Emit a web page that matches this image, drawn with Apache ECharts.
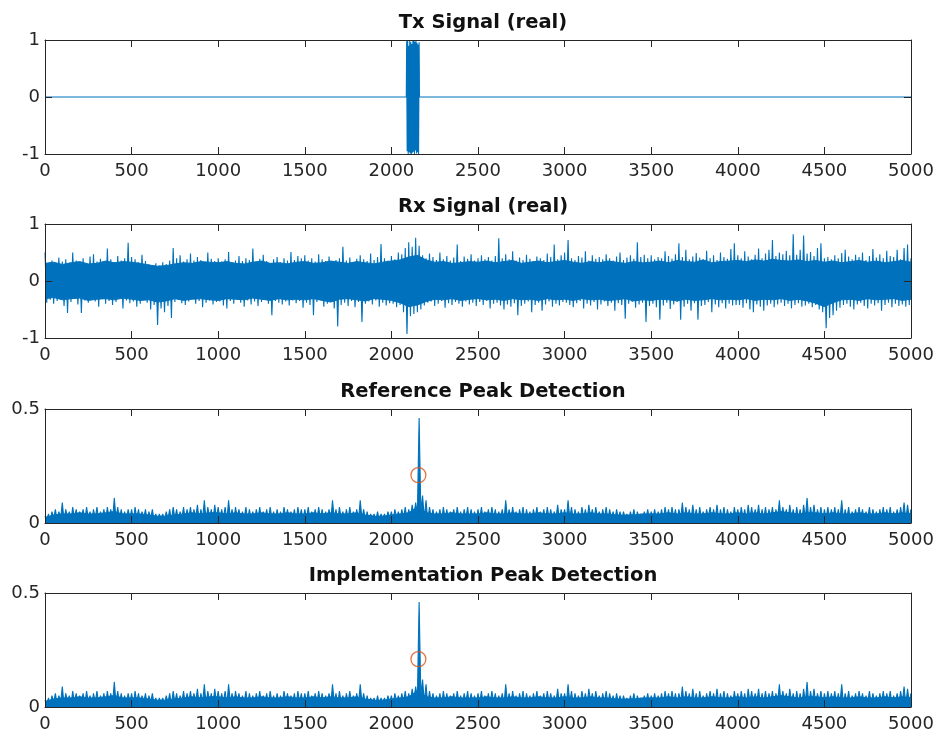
<!DOCTYPE html>
<html>
<head>
<meta charset="utf-8">
<script src="https://cdn.jsdelivr.net/npm/echarts@6/dist/echarts.min.js"></script>
<style>html,body{margin:0;padding:0;background:#fff;}#chart{width:941px;height:736px;}</style>
</head>
<body>
<div id="chart"></div>
<script>
// ---------- data ----------
const titles = ['Tx Signal (real)', 'Rx Signal (real)', 'Reference Peak Detection', 'Implementation Peak Detection'];
const xTickMin = 0, xTickMax = 5000, xTickStep = 500;

// Tx: zero everywhere except a short burst
const txX = [0, 2086, 2088, 2091, 2094, 2097, 2100, 2103, 2106, 2109, 2112, 2115, 2118, 2121, 2124, 2127, 2130, 2133, 2136, 2139, 2142, 2145, 2148, 2151, 2154, 2157, 2160, 2162, 5000];
const txY = [0, 0, .98, -.95, 1, -1, .9, -.97, 1, -.99, .96, -1, .93, -.98, 1, -.96, .99, -1, .97, -.94, 1, -.99, .95, -.97, .92, -1, .96, 0, 0];

// Rx / correlation traces: one value every SAMPLE_STEP samples (pixel-column extremes)
const SAMPLE_STEP = 10;
const rxSignal = [
 .50,-.38,.30,-.33,.36,-.40,.29,-.35,.41,-.31,.34,-.44,.38,-.56,.32,-.37,.50,-.30,.36,-.41,.33,-.56,.40,-.34,.30,-.38,.43,-.32,.47,-.36,.34,-.45,.39,-.31,.30,-.40,.57,-.35,.38,-.42,.33,-.37,.44,-.30,.36,-.48,.40,-.34,.67,-.39,
 .42,-.36,.38,-.45,.33,-.40,.46,-.33,.35,-.38,.30,-.50,.28,-.42,.31,-.77,.27,-.48,.33,-.55,.30,-.44,.36,-.65,.58,-.37,.40,-.33,.45,-.39,.34,-.42,.38,-.36,.48,-.31,.36,-.40,.42,-.35,.37,-.46,.33,-.38,.50,-.34,.39,-.41,.35,-.37,
 .40,-.36,.34,-.43,.38,-.48,.51,-.35,.32,-.40,.36,-.33,.44,-.38,.35,-.45,.40,-.34,.37,-.41,.57,-.36,.33,-.44,.39,-.37,.46,-.32,.35,-.40,.31,-.60,.38,-.35,.42,-.38,.33,-.41,.40,-.36,.36,-.43,.51,-.34,.37,-.39,.44,-.35,.40,-.47,
 .45,-.38,.36,-.42,.40,-.60,.34,-.37,.47,-.33,.38,-.45,.35,-.40,.43,-.36,.32,-.48,.37,-.80,.40,-.42,.60,-.38,.36,-.44,.41,-.35,.33,-.46,.39,-.37,.45,-.72,.38,-.40,.35,-.36,.48,-.41,.37,-.34,.42,-.45,.65,-.38,.40,-.43,.36,-.39,
 .44,-.40,.38,-.46,.50,-.42,.47,-.55,.58,-.93,.68,-.62,.60,-.58,.76,-.55,.62,-.50,.45,-.43,.40,-.38,.48,-.36,.42,-.44,.37,-.40,.50,-.35,.38,-.47,.44,-.39,.36,-.42,.41,-.37,.64,-.40,.35,-.45,.43,-.36,.39,-.41,.47,-.38,.36,-.44,
 .40,-.37,.45,-.42,.38,-.35,.42,-.48,.36,-.40,.44,-.38,.75,-.43,.40,-.50,.47,-.41,.38,-.45,.52,-.39,.36,-.60,.41,-.44,.37,-.40,.46,-.36,.39,-.55,.35,-.42,.43,-.38,.40,-.52,.37,-.41,.48,-.36,.42,-.45,.64,-.40,.38,-.43,.45,-.37,
 .50,-.38,.72,-.42,.40,-.46,.37,-.39,.44,-.35,.41,-.48,.52,-.40,.36,-.43,.45,-.37,.39,-.50,.42,-.41,.38,-.36,.47,-.44,.40,-.38,.36,-.52,.43,-.39,.50,-.42,.37,-.66,.41,-.40,.45,-.37,.39,-.47,.68,-.41,.42,-.38,.46,-.72,.40,-.44,
 .45,-.40,.38,-.46,.42,-.68,.40,-.43,.52,-.38,.44,-.49,.39,-.41,.47,-.37,.66,-.68,.42,-.45,.55,-.40,.38,-.52,.43,-.39,.49,-.68,.41,-.44,.38,-.42,.53,-.37,.40,-.55,.45,-.41,.37,-.46,.50,-.39,.42,-.48,.39,-.40,.56,-.43,.66,-.42,
 .45,-.42,.40,-.47,.52,-.39,.43,-.50,.38,-.55,.46,-.41,.57,-.45,.40,-.52,.48,-.43,.55,-.40,.72,-.46,.44,-.41,.50,-.38,.47,-.44,.53,-.40,.45,-.48,.82,-.42,.46,-.39,.55,-.45,.80,-.43,.48,-.40,.51,-.46,.44,-.42,.58,-.50,.66,-.55,
 .40,-.83,.42,-.65,.38,-.60,.45,-.52,.40,-.47,.49,-.42,.55,-.40,.43,-.45,.38,-.50,.46,-.41,.42,-.38,.50,-.44,.37,-.48,.44,-.40,.56,-.43,.41,-.39,.47,-.52,.40,-.42,.53,-.38,.44,-.46,.42,-.40,.55,-.44,.38,-.41,.58,-.45,.64,-.42,
 .40
];
const refCorr = [
 .03,.01,.04,.00,.05,.02,.06,.01,.05,.02,.09,.01,.06,.02,.05,.01,.07,.02,.06,.01,.05,.02,.06,.01,.07,.02,.05,.01,.06,.02,.07,.01,.05,.02,.06,.01,.07,.02,.06,.01,.11,.02,.07,.01,.06,.02,.05,.01,.06,.02,
 .06,.01,.07,.02,.06,.01,.05,.02,.06,.01,.05,.02,.06,.01,.04,.01,.04,.02,.04,.01,.05,.02,.06,.01,.07,.02,.06,.01,.05,.02,.07,.01,.06,.02,.07,.01,.06,.02,.08,.01,.06,.02,.10,.01,.07,.02,.06,.01,.08,.02,
 .07,.01,.06,.02,.07,.01,.10,.02,.06,.01,.07,.02,.06,.01,.05,.02,.07,.01,.06,.02,.05,.01,.06,.02,.07,.01,.05,.02,.06,.01,.07,.02,.05,.01,.06,.02,.05,.01,.07,.02,.06,.01,.05,.02,.06,.01,.07,.02,.06,.01,
 .06,.02,.07,.01,.05,.02,.06,.01,.07,.02,.06,.01,.05,.02,.06,.01,.10,.02,.06,.01,.07,.02,.05,.01,.06,.02,.07,.01,.05,.02,.06,.01,.10,.02,.06,.01,.05,.01,.04,.02,.04,.01,.05,.01,.04,.02,.04,.01,.05,.02,
 .05,.01,.06,.02,.05,.01,.06,.02,.07,.01,.06,.02,.08,.03,.09,.04,.46,.05,.12,.02,.10,.01,.07,.02,.06,.01,.05,.02,.06,.01,.07,.02,.06,.01,.05,.02,.06,.01,.07,.02,.05,.01,.06,.02,.07,.01,.06,.02,.05,.01,
 .06,.02,.07,.01,.05,.02,.06,.01,.07,.02,.06,.01,.05,.02,.06,.01,.10,.02,.06,.01,.07,.02,.05,.01,.06,.02,.07,.01,.06,.02,.05,.01,.06,.02,.07,.01,.05,.02,.06,.01,.07,.02,.06,.01,.05,.02,.08,.01,.06,.02,
 .06,.01,.10,.02,.07,.01,.06,.02,.05,.01,.07,.02,.06,.01,.08,.02,.06,.01,.07,.02,.05,.01,.06,.02,.07,.01,.06,.02,.05,.01,.06,.02,.05,.01,.05,.02,.04,.01,.05,.02,.06,.01,.05,.02,.04,.01,.05,.02,.06,.01,
 .05,.02,.06,.01,.05,.02,.06,.01,.07,.02,.06,.01,.07,.02,.06,.01,.06,.02,.09,.01,.07,.02,.06,.01,.08,.02,.06,.01,.07,.02,.05,.01,.06,.02,.07,.01,.06,.02,.08,.01,.06,.02,.07,.01,.06,.02,.05,.01,.07,.02,
 .06,.01,.07,.02,.06,.01,.08,.02,.07,.01,.06,.02,.08,.01,.06,.02,.07,.01,.06,.02,.07,.01,.06,.02,.10,.01,.07,.02,.06,.01,.08,.02,.06,.01,.07,.02,.06,.01,.08,.02,.11,.01,.07,.02,.08,.01,.06,.02,.07,.01,
 .06,.02,.07,.01,.06,.02,.07,.01,.06,.02,.10,.01,.06,.02,.07,.01,.05,.02,.06,.01,.07,.02,.06,.01,.05,.02,.07,.01,.06,.02,.05,.01,.06,.02,.07,.01,.06,.02,.07,.01,.05,.02,.06,.01,.07,.02,.09,.01,.08,.02,
 .06
];
// the implementation output reads identical to the reference in the picture
const implCorr = refCorr;

// dense solid core of each trace, one value every CORE_STEP samples
const CORE_STEP = 50;
const rxCoreHi = [
 .31,.33,.29,.32,.34,.30,.31,.35,.32,.34,
 .33,.31,.28,.26,.27,.30,.32,.31,.34,.33,
 .32,.34,.31,.30,.33,.35,.31,.32,.30,.33,
 .34,.31,.32,.35,.33,.31,.34,.32,.30,.33,
 .35,.37,.42,.45,.37,.33,.34,.31,.32,.34,
 .33,.35,.32,.34,.36,.31,.33,.35,.32,.34,
 .36,.33,.31,.34,.32,.35,.33,.31,.34,.32,
 .33,.35,.32,.36,.34,.33,.37,.32,.34,.35,
 .36,.34,.37,.35,.38,.36,.35,.37,.34,.36,
 .33,.35,.32,.34,.36,.33,.35,.32,.34,.36,
 .33
];
const rxCoreLo = [
 -.31,-.29,-.33,-.31,-.30,-.34,-.32,-.31,-.33,-.30,
 -.32,-.34,-.33,-.37,-.35,-.31,-.34,-.32,-.31,-.33,
 -.34,-.31,-.32,-.33,-.30,-.32,-.34,-.31,-.33,-.32,
 -.33,-.31,-.34,-.37,-.32,-.31,-.33,-.35,-.31,-.32,
 -.34,-.38,-.45,-.42,-.36,-.32,-.33,-.31,-.34,-.32,
 -.31,-.33,-.32,-.34,-.31,-.33,-.32,-.34,-.31,-.33,
 -.32,-.34,-.31,-.33,-.32,-.34,-.33,-.31,-.35,-.33,
 -.34,-.32,-.33,-.35,-.32,-.34,-.33,-.31,-.33,-.32,
 -.33,-.31,-.34,-.32,-.33,-.31,-.34,-.32,-.35,-.39,
 -.45,-.38,-.33,-.32,-.34,-.31,-.33,-.32,-.31,-.34,
 -.32
];
const refCore = [
 .025,.035,.04,.04,.045,.04,.04,.045,.05,.04,
 .04,.04,.035,.03,.03,.035,.04,.045,.04,.045,
 .045,.04,.045,.04,.04,.045,.04,.04,.045,.04,
 .04,.045,.04,.045,.04,.04,.045,.035,.03,.03,
 .035,.04,.045,.07,.045,.04,.04,.045,.04,.04,
 .04,.045,.04,.04,.045,.04,.04,.045,.04,.04,
 .045,.04,.04,.045,.04,.04,.035,.035,.035,.04,
 .04,.04,.045,.04,.045,.04,.04,.045,.04,.04,
 .045,.04,.045,.04,.045,.05,.045,.04,.045,.045,
 .04,.045,.04,.04,.045,.04,.04,.045,.04,.045,
 .04
];
const implCore = refCore;

const refPeakX = [2156], refPeakY = [0.21];
const implPeakX = [2156], implPeakY = [0.21];

// ---------- chart ----------
const BLUE = '#0072BD', ORANGE = '#D95319', AX = '#262626';
const FONT = 'DejaVu Sans';
const tops = [40, 224, 409, 593];
const yRanges = [[-1, 1, 1], [-1, 1, 1], [0, 0.5, 0.5], [0, 0.5, 0.5]];

const grid = tops.map(t => ({ left: 45, right: 30, top: t, height: 114, containLabel: false }));
const xAxis = [], yAxis = [];
[false, true].forEach(isTop => {
  tops.forEach((t, k) => {
    xAxis.push({
      gridIndex: k, type: 'value', position: isTop ? 'top' : 'bottom',
      min: xTickMin, max: xTickMax, interval: xTickStep,
      axisLine: { show: true, onZero: false, lineStyle: { color: AX, width: 1 } },
      axisTick: { show: true, inside: true, length: 7, lineStyle: { color: AX } },
      axisLabel: { show: !isTop, fontSize: 18, fontFamily: FONT, color: AX, margin: 8, formatter: v => String(v) },
      splitLine: { show: false }, silent: true, z: 10
    });
  });
});
[false, true].forEach(isRight => {
  tops.forEach((t, k) => {
    const r = yRanges[k];
    yAxis.push({
      gridIndex: k, type: 'value', position: isRight ? 'right' : 'left',
      min: r[0], max: r[1], interval: r[2],
      axisLine: { show: true, onZero: false, lineStyle: { color: AX, width: 1 } },
      axisTick: { show: true, inside: true, length: 7, lineStyle: { color: AX } },
      axisLabel: { show: !isRight, fontSize: 18, fontFamily: FONT, color: AX, margin: 5, formatter: v => String(v) },
      splitLine: { show: false }, silent: true, z: 10
    });
  });
});

const toPairs = (arr, step) => arr.map((v, i) => [i * step, v]);
const lineSeries = (k, data, fill) => ({
  type: 'line', xAxisIndex: k, yAxisIndex: k, data: data,
  showSymbol: false, symbol: 'none', sampling: null, silent: true, animation: false,
  lineStyle: { color: BLUE, width: 1.1 },
  areaStyle: fill ? { color: BLUE, opacity: 1, origin: 0 } : undefined, z: 3
});
const coreSeries = (k, data) => ({
  type: 'line', xAxisIndex: k, yAxisIndex: k, data: data,
  showSymbol: false, symbol: 'none', sampling: null, silent: true, animation: false,
  lineStyle: { color: BLUE, width: 1 },
  areaStyle: { color: BLUE, opacity: 1, origin: 0 }, z: 2
});
const series = [
  lineSeries(0, txX.map((x, i) => [x, txY[i]]), true),
  coreSeries(1, toPairs(rxCoreHi, CORE_STEP)),
  coreSeries(1, toPairs(rxCoreLo, CORE_STEP)),
  lineSeries(1, toPairs(rxSignal, SAMPLE_STEP), true),
  coreSeries(2, toPairs(refCore, CORE_STEP)),
  lineSeries(2, toPairs(refCorr, SAMPLE_STEP), true),
  coreSeries(3, toPairs(implCore, CORE_STEP)),
  lineSeries(3, toPairs(implCorr, SAMPLE_STEP), true),
  { type: 'scatter', xAxisIndex: 2, yAxisIndex: 2, data: refPeakX.map((x, i) => [x, refPeakY[i]]),
    symbol: 'circle', symbolSize: 15, itemStyle: { color: 'rgba(0,0,0,0)', borderColor: ORANGE, borderWidth: 1.3 }, z: 5, silent: true },
  { type: 'scatter', xAxisIndex: 3, yAxisIndex: 3, data: implPeakX.map((x, i) => [x, implPeakY[i]]),
    symbol: 'circle', symbolSize: 15, itemStyle: { color: 'rgba(0,0,0,0)', borderColor: ORANGE, borderWidth: 1.3 }, z: 5, silent: true }
];

const title = titles.map((txt, k) => ({
  text: txt, left: 478, top: tops[k] - 32, textAlign: 'center',
  textStyle: { fontSize: 19.5, fontWeight: 'bold', fontFamily: FONT, color: '#111' }
}));

const chart = echarts.init(document.getElementById('chart'), null, { renderer: 'canvas' });
chart.setOption({ animation: false, backgroundColor: '#fff', title, grid, xAxis, yAxis, series });
</script>
</body>
</html>
